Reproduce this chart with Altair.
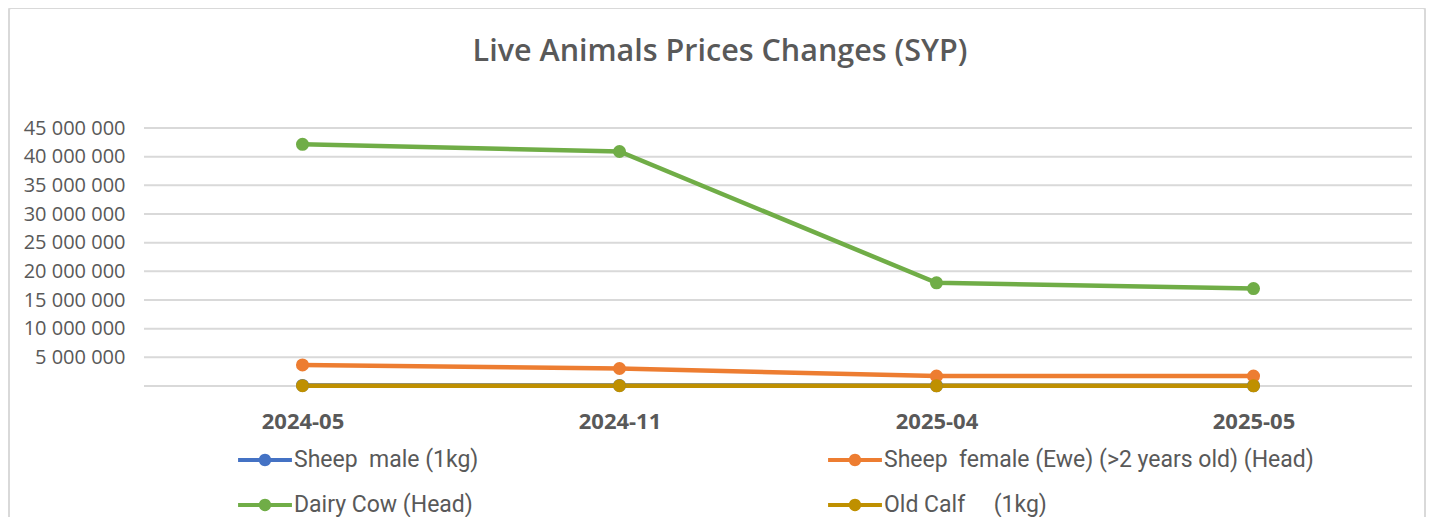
import altair as alt
import pandas as pd

# ---- data ----
periods = ["2024-05", "2024-11", "2025-04", "2025-05"]
series_names = [
    "Sheep\u00a0 male (1kg)",
    "Sheep\u00a0 female (Ewe) (>2 years old) (Head)",
    "Dairy Cow (Head)",
    "Old Calf\u00a0\u00a0\u00a0\u00a0 (1kg)",
]
sheep_male = [90000, 85000, 60000, 60000]
sheep_female = [3670000, 3050000, 1740000, 1740000]
dairy_cow = [42150000, 40900000, 18000000, 17000000]
old_calf = [60000, 55000, 40000, 40000]
colors = ["#4472C4", "#ED7D31", "#70AD47", "#BF9000"]
y_ticks = [0, 5000000, 10000000, 15000000, 20000000, 25000000,
           30000000, 35000000, 40000000, 45000000]
chart_title = "Live Animals Prices Changes (SYP)"

rows = []
for name, vals in zip(series_names, [sheep_male, sheep_female, dairy_cow, old_calf]):
    for p, v in zip(periods, vals):
        rows.append({"period": p, "series": name, "value": v,
                     "order": series_names.index(name)})
df = pd.DataFrame(rows)
grid_df = pd.DataFrame({"value": y_ticks})

GRID = "#d9d9d9"
TXT = "#595959"

legend_symbol = ("M-1,-0.075 L1,-0.075 L1,0.075 L-1,0.075 Z "
                 "M0.23,0 A0.23,0.23 0 1,1 -0.23,0 A0.23,0.23 0 1,1 0.23,0 Z")

yscale = alt.Scale(domain=[0, 45000000], nice=False)
y_axis = alt.Axis(title=None, values=y_ticks, labelFontSize=20,
                  labelFont="Open Sans", labelColor=TXT,
                  labelPadding=19, domain=False, ticks=False,
                  grid=False, labelOverlap=False,
                  labelExpr="datum.value == 0 ? '' : replace(format(datum.value, ','), regexp(',', 'g'), ' ')")
y_enc = alt.Y("value:Q", scale=yscale, axis=y_axis, title=None)

grid = alt.Chart(grid_df).mark_rule(color=GRID, strokeWidth=2).encode(
    y=y_enc, x=alt.value(0), x2=alt.value(1268))

x_enc = alt.X("period:N", sort=periods,
              scale=alt.Scale(domain=periods, padding=0.5),
              axis=alt.Axis(title=None, labelAngle=0, labelFontSize=22,
                            labelFont="Open Sans", labelFontWeight="bold",
                            labelColor=TXT, labelPadding=25, labelBaseline="top",
                            domain=False, ticks=False, grid=False))
color_enc = alt.Color("series:N", sort=series_names,
                      scale=alt.Scale(domain=series_names, range=colors),
                      legend=alt.Legend(title=None, orient="none", legendX=94, legendY=305,
                                        columns=2, direction="horizontal",
                                        columnPadding=349, rowPadding=6,
                                        symbolType=legend_symbol, symbolSize=2900,
                                        symbolStrokeWidth=0, labelOffset=2,
                                        labelFont="Roboto",
                                        labelFontSize=23, labelColor=TXT,
                                        labelLimit=600))

base = alt.Chart(df)
lines = base.mark_line(strokeWidth=4.5).encode(
    x=x_enc, y=y_enc, color=color_enc, order="order:Q", detail="series:N")
points = base.mark_circle(size=170, opacity=1).encode(
    x=x_enc, y=y_enc, color=color_enc, order=alt.Order("order:Q"))

frame = alt.Chart(alt.Data(values=[{"k": 1}])).mark_rect(
    fill=None, stroke=GRID, strokeWidth=2, cornerRadius=2).encode(
    x=alt.value(-135), x2=alt.value(1281), y=alt.value(-120), y2=alt.value(420))

title_mark = alt.Chart(alt.Data(values=[{"t": chart_title}])).mark_text(
    font="Open Sans", fontSize=30.5, fontWeight=600, color=TXT,
    align="center", baseline="alphabetic").encode(
    text="t:N", x=alt.value(576), y=alt.value(-67))

chart = alt.layer(frame, grid, lines, points, title_mark).properties(
    width=1268, height=258,
    padding={"left": 136, "top": 120, "right": 15, "bottom": 131},
    autosize=alt.AutoSizeParams(type="none"),
).configure_view(stroke=None)

chart.save("out.html", embed_options={"renderer": "svg", "actions": False})
